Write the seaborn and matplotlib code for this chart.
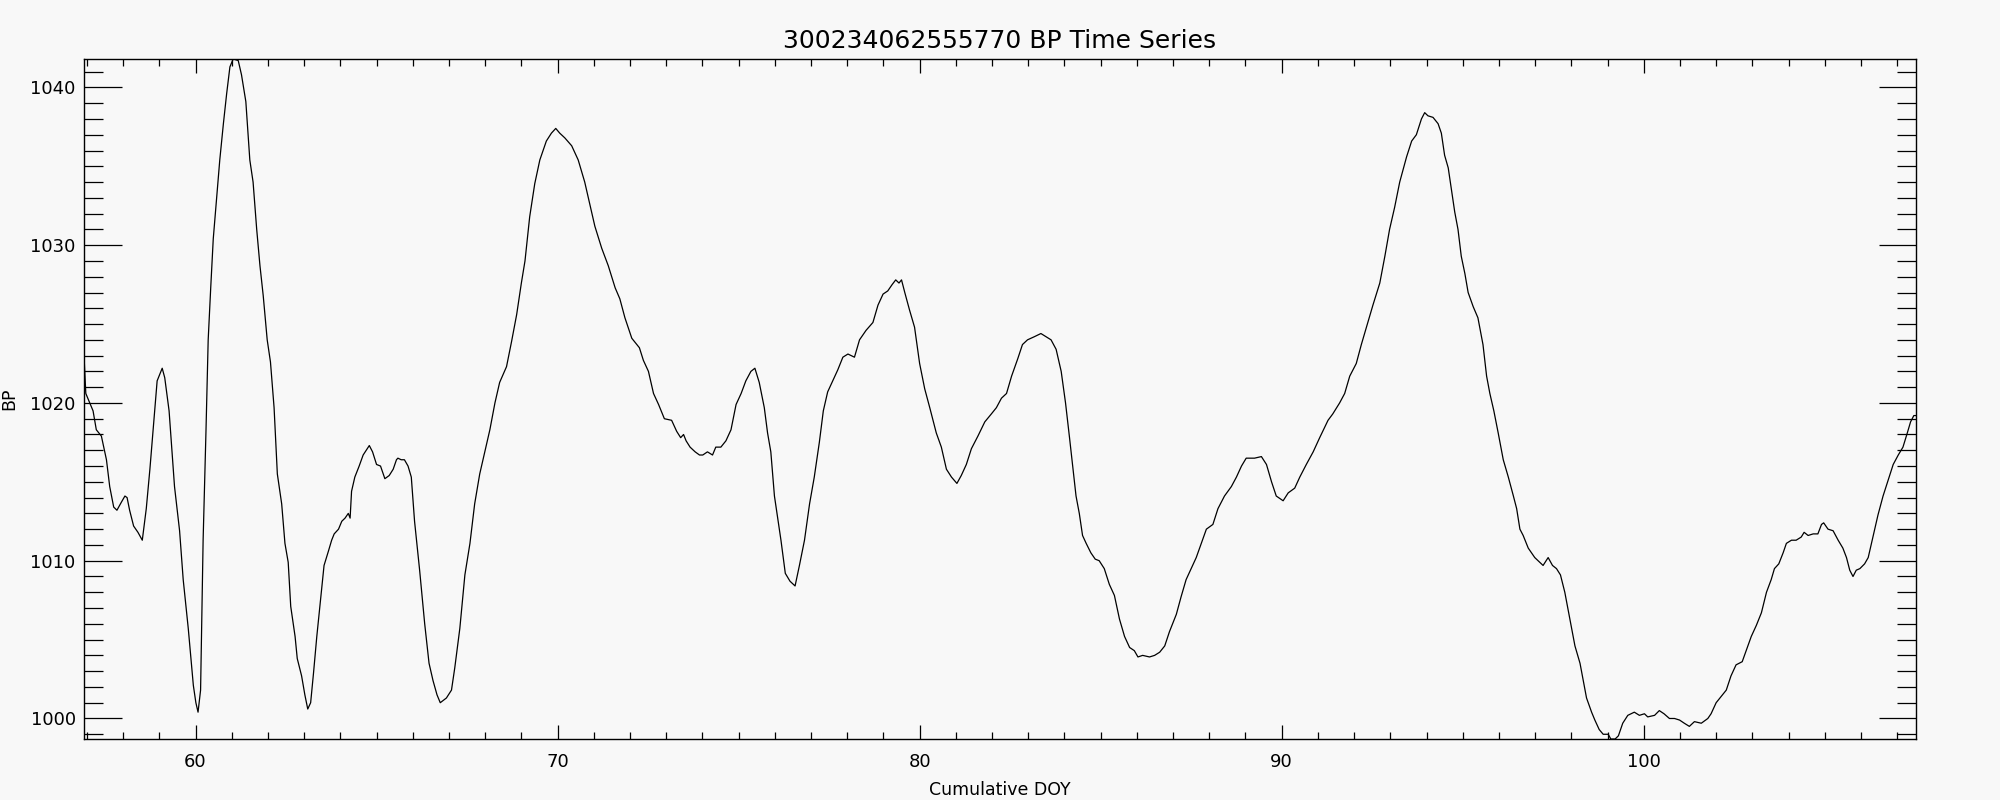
import seaborn as sns
import matplotlib.pyplot as plt
from matplotlib.ticker import MultipleLocator

# cumulative day of year (x) and barometric pressure (y)
doy = [
    56.92, 56.97, 57.08, 57.17, 57.26, 57.40, 57.54, 57.63, 57.74, 57.83,
    57.95, 58.05, 58.11, 58.18, 58.29, 58.41, 58.53, 58.64, 58.74, 58.85,
    58.94, 59.08, 59.15, 59.27, 59.42, 59.56, 59.66, 59.80, 59.94, 60.01,
    60.07, 60.14, 60.21, 60.29, 60.35, 60.42, 60.49, 60.58, 60.67, 60.77,
    60.86, 60.95, 61.04, 61.18, 61.27, 61.39, 61.50, 61.59, 61.69, 61.78,
    61.87, 61.98, 62.07, 62.17, 62.26, 62.38, 62.47, 62.56, 62.63, 62.75,
    62.81, 62.93, 63.02, 63.10, 63.18, 63.26, 63.35, 63.46, 63.55, 63.67,
    63.76, 63.83, 63.95, 64.04, 64.13, 64.22, 64.27, 64.31, 64.40, 64.52,
    64.63, 64.80, 64.89, 65.00, 65.11, 65.23, 65.35, 65.46,
    65.55, 65.59, 65.68, 65.77, 65.87, 65.96, 66.05, 66.19, 66.33, 66.45,
    66.56, 66.67, 66.76, 66.93, 67.07, 67.16, 67.30, 67.44, 67.58, 67.71,
    67.85, 67.99, 68.13, 68.27, 68.40, 68.59, 68.73, 68.87, 69.00, 69.10,
    69.23, 69.37, 69.51, 69.69, 69.83, 69.95, 70.06, 70.20, 70.39, 70.57,
    70.75, 70.89, 71.03, 71.22, 71.40, 71.59, 71.72, 71.86, 72.05, 72.26,
    72.37, 72.51, 72.65, 72.79, 72.95, 73.15, 73.29, 73.40, 73.48, 73.55,
    73.66, 73.80, 73.92,
    74.01, 74.14, 74.28, 74.37, 74.51, 74.65, 74.79, 74.93, 75.07, 75.20,
    75.34, 75.45, 75.57, 75.71, 75.80, 75.89, 75.99, 76.08, 76.17, 76.29,
    76.42, 76.56, 76.68, 76.82, 76.96, 77.09, 77.23, 77.34, 77.46, 77.60,
    77.74, 77.88, 78.02, 78.20, 78.34, 78.52, 78.71, 78.85, 78.99, 79.12,
    79.24, 79.34, 79.43, 79.50, 79.59, 79.72, 79.86, 80.00, 80.14, 80.28,
    80.46, 80.60, 80.74, 80.88, 81.03, 81.15, 81.29, 81.43, 81.61, 81.80,
    81.98, 82.12, 82.26, 82.40, 82.54,
    82.71, 82.84, 82.98, 83.17, 83.35, 83.49, 83.63, 83.77, 83.91, 84.03,
    84.14, 84.25, 84.32, 84.41, 84.50, 84.60, 84.73, 84.85, 84.96, 85.10,
    85.24, 85.38, 85.52, 85.66, 85.80, 85.93, 86.03, 86.16, 86.35, 86.49,
    86.63, 86.77, 86.90, 87.09, 87.22, 87.36, 87.50, 87.64, 87.78, 87.92,
    88.10, 88.24, 88.42, 88.61, 88.75, 88.89, 89.02, 89.25, 89.44, 89.58,
    89.72, 89.85, 90.04, 90.18, 90.36, 90.50, 90.68, 90.87, 91.05,
    91.28, 91.41, 91.60, 91.74, 91.88, 92.06, 92.20, 92.34, 92.52, 92.71,
    92.85, 92.98, 93.12, 93.26, 93.45, 93.59, 93.72, 93.86, 93.95, 94.04,
    94.18, 94.32, 94.41, 94.50, 94.60, 94.69, 94.78, 94.87, 94.96, 95.06,
    95.15, 95.29, 95.42, 95.56, 95.66, 95.75, 95.86, 95.98, 96.12, 96.26,
    96.40, 96.49, 96.58, 96.67, 96.81, 96.99, 97.13, 97.22, 97.36, 97.48,
    97.59, 97.70, 97.82, 97.96, 98.10, 98.24, 98.33, 98.42, 98.56, 98.65,
    98.77, 98.88, 99.02, 99.09, 99.21, 99.30,
    99.42, 99.56, 99.74, 99.88, 100.02, 100.11, 100.30, 100.43, 100.56, 100.71,
    100.85, 100.99, 101.12, 101.26, 101.40, 101.59, 101.77, 101.86, 102.00, 102.14,
    102.28, 102.41, 102.55, 102.72, 102.83, 102.97, 103.11, 103.25, 103.39, 103.52,
    103.61, 103.73, 103.85, 103.94, 104.08, 104.21, 104.35, 104.43, 104.54, 104.68,
    104.81, 104.91, 104.97, 105.09, 105.23, 105.37, 105.50, 105.60, 105.69, 105.78,
    105.87, 105.97, 106.10, 106.20, 106.29, 106.38, 106.47, 106.61, 106.75, 106.89,
    107.03, 107.16, 107.28, 107.37, 107.46, 107.52,
]

bp = [
    1023.0, 1020.6, 1020.0, 1019.5, 1018.3, 1017.9, 1016.4, 1014.7, 1013.4, 1013.2,
    1013.7, 1014.1, 1014.0, 1013.2, 1012.2, 1011.8, 1011.3, 1013.3, 1015.8, 1018.9,
    1021.4, 1022.2, 1021.6, 1019.5, 1014.7, 1011.9, 1008.8, 1005.7, 1002.1, 1001.0,
    1000.4, 1001.8, 1011.3, 1018.3, 1024.0, 1027.3, 1030.4, 1032.9, 1035.4, 1037.7,
    1039.6, 1041.3, 1041.8, 1041.7, 1040.8, 1039.1, 1035.4, 1034.0, 1031.0, 1028.7,
    1026.8, 1024.0, 1022.6, 1019.7, 1015.5, 1013.6, 1011.1, 1009.9, 1007.1, 1005.2,
    1003.8, 1002.7, 1001.5, 1000.6, 1001.0, 1002.9, 1005.2, 1007.7, 1009.7, 1010.6,
    1011.3, 1011.7, 1012.0, 1012.5, 1012.7, 1013.0, 1012.7, 1014.4, 1015.3, 1016.0,
    1016.7, 1017.3, 1016.9, 1016.1, 1016.0, 1015.2, 1015.4, 1015.8,
    1016.4, 1016.5, 1016.4, 1016.4, 1016.0, 1015.3, 1012.5, 1009.4, 1006.0, 1003.5,
    1002.4, 1001.5, 1001.0, 1001.3, 1001.8, 1003.2, 1005.7, 1009.1, 1011.1, 1013.6,
    1015.5, 1016.9, 1018.3, 1020.0, 1021.3, 1022.3, 1023.9, 1025.6, 1027.6, 1029.0,
    1031.8, 1033.9, 1035.4, 1036.6, 1037.1, 1037.4, 1037.1, 1036.8, 1036.3, 1035.4,
    1034.0, 1032.6, 1031.2, 1029.8, 1028.7, 1027.3, 1026.6, 1025.4, 1024.1, 1023.5,
    1022.7, 1022.0, 1020.6, 1019.9, 1019.0, 1018.9, 1018.2, 1017.8, 1018.0, 1017.6,
    1017.2, 1016.9, 1016.7,
    1016.7, 1016.9, 1016.7, 1017.2, 1017.2, 1017.6, 1018.3, 1019.9, 1020.6, 1021.4,
    1022.0, 1022.2, 1021.3, 1019.7, 1018.1, 1016.9, 1014.1, 1012.7, 1011.3, 1009.2,
    1008.7, 1008.4, 1009.7, 1011.3, 1013.6, 1015.3, 1017.5, 1019.5, 1020.7, 1021.4,
    1022.1, 1022.9, 1023.1, 1022.9, 1024.0, 1024.6, 1025.1, 1026.2, 1026.9, 1027.1,
    1027.5, 1027.8, 1027.6, 1027.8, 1027.0, 1025.9, 1024.8, 1022.5, 1020.9, 1019.7,
    1018.1, 1017.2, 1015.8, 1015.3, 1014.9, 1015.4, 1016.1, 1017.1, 1017.9, 1018.8,
    1019.3, 1019.7, 1020.3, 1020.6, 1021.7,
    1022.8, 1023.7, 1024.0, 1024.2, 1024.4, 1024.2, 1024.0, 1023.4, 1022.0, 1020.0,
    1017.8, 1015.5, 1014.1, 1013.0, 1011.6, 1011.1, 1010.5, 1010.1, 1010.0, 1009.5,
    1008.5, 1007.8, 1006.3, 1005.2, 1004.5, 1004.3, 1003.9, 1004.0, 1003.9, 1004.0,
    1004.2, 1004.6, 1005.5, 1006.6, 1007.7, 1008.8, 1009.5, 1010.2, 1011.1, 1012.0,
    1012.3, 1013.3, 1014.1, 1014.7, 1015.3, 1016.0, 1016.5, 1016.5, 1016.6, 1016.1,
    1015.0, 1014.1, 1013.8, 1014.3, 1014.6, 1015.3, 1016.1, 1016.9, 1017.8,
    1018.9, 1019.3, 1020.0, 1020.6, 1021.7, 1022.5, 1023.7, 1024.8, 1026.2, 1027.6,
    1029.3, 1031.0, 1032.4, 1034.0, 1035.6, 1036.6, 1037.0, 1038.0, 1038.4, 1038.2,
    1038.1, 1037.7, 1037.1, 1035.7, 1034.9, 1033.5, 1032.1, 1031.0, 1029.3, 1028.2,
    1027.0, 1026.1, 1025.4, 1023.7, 1021.7, 1020.6, 1019.5, 1018.1, 1016.4, 1015.3,
    1014.1, 1013.3, 1012.0, 1011.6, 1010.8, 1010.2, 1009.9, 1009.7, 1010.2, 1009.7,
    1009.5, 1009.1, 1008.0, 1006.3, 1004.6, 1003.5, 1002.4, 1001.3, 1000.4, 999.9,
    999.3, 999.0, 999.0, 998.7, 998.7, 998.9,
    999.7, 1000.2, 1000.4, 1000.2, 1000.3, 1000.1, 1000.2, 1000.5, 1000.3, 1000.0,
    1000.0, 999.9, 999.7, 999.5, 999.8, 999.7, 1000.0, 1000.3, 1001.0, 1001.4,
    1001.8, 1002.7, 1003.4, 1003.6, 1004.3, 1005.2, 1005.9, 1006.7, 1008.0, 1008.8,
    1009.5, 1009.8, 1010.5, 1011.1, 1011.3, 1011.3, 1011.5, 1011.8, 1011.6, 1011.7,
    1011.7, 1012.3, 1012.4, 1012.0, 1011.9, 1011.3, 1010.8, 1010.2, 1009.4, 1009.0,
    1009.4, 1009.5, 1009.8, 1010.2, 1011.1, 1012.0, 1012.9, 1014.1, 1015.1, 1016.1,
    1016.7, 1017.2, 1018.1, 1018.8, 1019.2, 1019.2,
]

title = "300234062555770 BP Time Series"
x_label = "Cumulative DOY"
y_label = "BP"

sns.set_theme(style="ticks")
plt.rcParams['font.family'] = ['DejaVu Sans']
bg = '#f8f8f8'

fig = plt.figure(figsize=(20, 8), dpi=100, facecolor=bg)
ax = fig.add_axes([0.042, 0.07625, 0.916, 0.85])
ax.set_facecolor(bg)

sns.lineplot(x=doy, y=bp, ax=ax, color='black', linewidth=0.9,
             estimator=None, sort=False)

# axis range hugs the data, like the original
ax.set_xlim(min(doy), max(doy))
ax.set_ylim(min(bp), max(bp))

ax.xaxis.set_major_locator(MultipleLocator(10))
ax.xaxis.set_minor_locator(MultipleLocator(1))
ax.yaxis.set_major_locator(MultipleLocator(10))
ax.yaxis.set_minor_locator(MultipleLocator(1))

ax.tick_params(axis='x', which='both', direction='in', top=True, bottom=True,
               color='black', width=0.9, labelsize=13, pad=10, labelcolor='black')
ax.tick_params(axis='x', which='major', length=10)
ax.tick_params(axis='x', which='minor', length=5)
ax.tick_params(axis='y', which='both', direction='in', left=True, right=True,
               color='black', width=0.9, labelsize=13, pad=6, labelcolor='black')
ax.tick_params(axis='y', which='major', length=27)
ax.tick_params(axis='y', which='minor', length=13.7)

for s in ax.spines.values():
    s.set_color('black')
    s.set_linewidth(1.0)

ax.set_title(title, fontsize=18, color='black', pad=8)
ax.set_xlabel(x_label, fontsize=12.5, color='black', labelpad=7)
ax.set_ylabel(y_label, fontsize=12.5, color='black', labelpad=9)

fig.savefig('out.png', dpi=100, facecolor=bg)
